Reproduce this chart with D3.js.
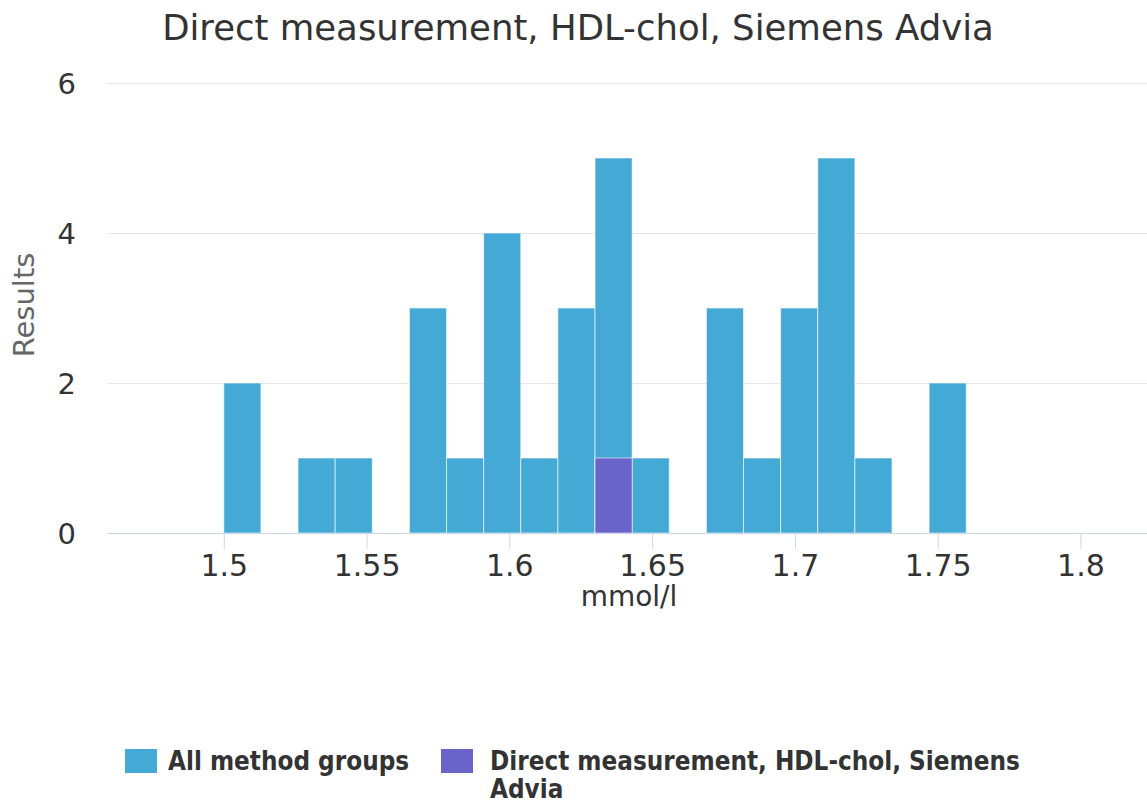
<!DOCTYPE html>
<html>
<head>
<meta charset="utf-8">
<script src="https://cdn.jsdelivr.net/npm/d3@7/dist/d3.min.js"></script>
<style>
  body { margin: 0; background: #fff; }
  svg { display: block; font-family: "DejaVu Sans", sans-serif; }
</style>
</head>
<body>
<svg id="chart" width="1147" height="811"></svg>
<script>
// bins of the histogram (mmol/l), each 0.013 wide
var binStarts = [1.500, 1.513, 1.526, 1.539, 1.552, 1.565, 1.578, 1.591, 1.604, 1.617,
                 1.630, 1.643, 1.656, 1.669, 1.682, 1.695, 1.708, 1.721, 1.734, 1.747];
var binWidth = 0.013;
var allGroups = [2, 0, 1, 1, 0, 3, 1, 4, 1, 3, 5, 1, 0, 3, 1, 3, 5, 1, 0, 2];
var thisGroup = [0, 0, 0, 0, 0, 0, 0, 0, 0, 0, 1, 0, 0, 0, 0, 0, 0, 0, 0, 0];
var xTicks = [1.5, 1.55, 1.6, 1.65, 1.7, 1.75, 1.8];
var yTicks = [0, 2, 4, 6];
var seriesNames = ["All method groups", "Direct measurement, HDL-chol, Siemens Advia"];
var seriesColors = ["#45a9d5", "#6a63c9"];

var svg = d3.select("#chart");

var x = d3.scaleLinear().domain([1.4591, 1.8233]).range([107, 1147]);
var y = d3.scaleLinear().domain([0, 6]).range([533, 83]);

// title
svg.append("text")
    .attr("x", 578).attr("y", 40)
    .attr("text-anchor", "middle")
    .style("font-size", "35.5px").style("fill", "#333")
    .text("Direct measurement, HDL-chol, Siemens Advia");

// grid + y labels
var yAxis = d3.axisLeft(y).tickValues(yTicks).tickSize(-1040).tickPadding(31).tickFormat(d3.format("d"));
var gy = svg.append("g").attr("transform", "translate(107,0)").call(yAxis);
gy.select(".domain").remove();
gy.selectAll(".tick line").attr("stroke", "#e6e6e6");
gy.selectAll(".tick").filter(function (d) { return d === 0; }).select("line").attr("stroke", "#ccd6eb");
gy.selectAll(".tick text")
    .style("font-size", "29px").style("fill", "#333")
    .style("font-family", "DejaVu Sans, sans-serif")
    .attr("dy", "0.36em");

svg.append("text")
    .attr("transform", "translate(34,305) rotate(-90)")
    .attr("text-anchor", "middle")
    .style("font-size", "29px").style("fill", "#666")
    .text("Results");

// bars
function drawSeries(vals, color) {
    svg.append("g").selectAll("rect")
        .data(vals.map(function (v, i) { return {x0: binStarts[i], v: v}; }).filter(function (d) { return d.v > 0; }))
        .enter().append("rect")
        .attr("x", function (d) { return x(d.x0); })
        .attr("width", function (d) { return x(d.x0 + binWidth) - x(d.x0); })
        .attr("y", function (d) { return y(d.v); })
        .attr("height", function (d) { return y(0) - y(d.v); })
        .attr("fill", color)
        .attr("stroke", "#fff")
        .attr("stroke-opacity", 0.6)
        .attr("stroke-width", 1);
}
drawSeries(allGroups, seriesColors[0]);
drawSeries(thisGroup, seriesColors[1]);

// x axis
var xAxis = d3.axisBottom(x).tickValues(xTicks).tickSize(16).tickPadding(6).tickFormat(d3.format(""));
var gx = svg.append("g").attr("transform", "translate(0,533)").call(xAxis);
gx.select(".domain").attr("stroke", "#ccd6eb").attr("d", "M107,0.5H1147");
gx.selectAll(".tick line").attr("stroke", "#ccd6eb");
gx.selectAll(".tick text")
    .style("font-size", "30px").style("fill", "#333")
    .style("font-family", "DejaVu Sans, sans-serif");

svg.append("text")
    .attr("x", 629).attr("y", 606)
    .attr("text-anchor", "middle")
    .style("font-size", "28px").style("fill", "#333")
    .text("mmol/l");

// legend
var legend = [
    {x: 125, tx: 168, lines: ["All method groups"]},
    {x: 441, tx: 490, lines: ["Direct measurement, HDL-chol, Siemens", "Advia"]}
];
legend.forEach(function (l, i) {
    svg.append("rect")
        .attr("x", l.x).attr("y", 749).attr("width", 32).attr("height", 24)
        .attr("fill", seriesColors[i]);
    var t = svg.append("text")
        .attr("x", l.tx).attr("y", 770)
        .style("font-family", "'DejaVu Sans Condensed', 'DejaVu Sans', sans-serif")
        .style("font-stretch", "condensed")
        .style("font-weight", "bold")
        .style("font-size", "25.8px").style("fill", "#333");
    l.lines.forEach(function (s, j) {
        t.append("tspan").attr("x", l.tx).attr("dy", j ? 28 : 0).text(s);
    });
});
</script>
</body>
</html>
